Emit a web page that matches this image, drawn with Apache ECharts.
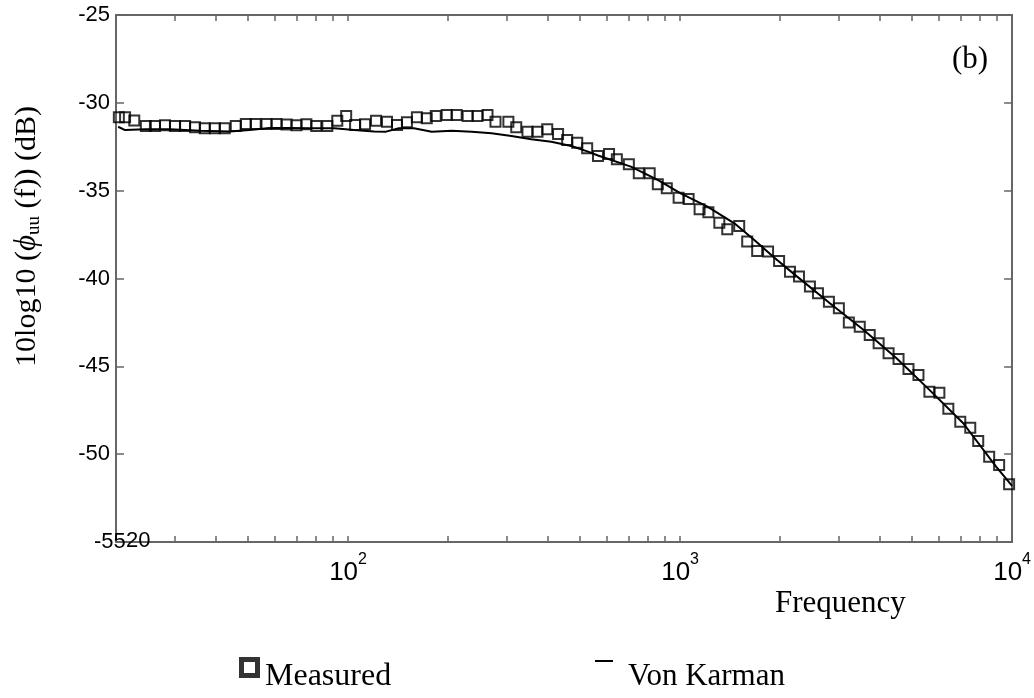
<!DOCTYPE html>
<html>
<head>
<meta charset="utf-8">
<script src="https://cdn.jsdelivr.net/npm/echarts@6/dist/echarts.min.js"></script>
<style>
  html, body { margin: 0; padding: 0; background: #fff; }
  #chart { width: 1034px; height: 698px; }
</style>
</head>
<body>
<div id="chart"></div>
<script>
// measured spectrum (squares)
const measuredFreq = [
  20.4, 21.3, 22.7, 24.6, 26.2, 28.1, 30.1, 32.3, 34.6, 37.0,
  39.7, 42.5, 45.9, 49.2, 52.7, 56.8, 60.9, 65.3, 69.9, 74.9,
  80.2, 86.6, 92.8, 98.7, 105, 112.5, 121.4, 131, 140.4, 150.4,
  161.2, 172.6, 183.7, 198.2, 212.4, 229.2, 245.5, 263, 278, 304,
  321, 347, 372, 398, 429, 457, 490, 525, 566, 611,
  645, 701, 751, 810, 857, 912, 990, 1061, 1145, 1217,
  1313, 1387, 1507, 1593, 1707, 1841, 1987, 2143, 2281, 2461,
  2602, 2807, 3008, 3223, 3477, 3726, 3963, 4246, 4550, 4875,
  5224, 5636, 6039, 6427, 6982, 7482, 7907, 8531, 9141, 9795
];
const measuredDb = [
  -30.82, -30.82, -31.01, -31.32, -31.32, -31.28, -31.32, -31.32, -31.39, -31.45,
  -31.45, -31.45, -31.32, -31.2, -31.2, -31.2, -31.2, -31.24, -31.28, -31.22,
  -31.32, -31.32, -31.02, -30.75, -31.26, -31.22, -31.02, -31.07, -31.26, -31.11,
  -30.82, -30.88, -30.75, -30.69, -30.69, -30.75, -30.75, -30.69, -31.07, -31.07,
  -31.39, -31.64, -31.64, -31.51, -31.77, -32.11, -32.27, -32.59, -33.03, -32.91,
  -33.21, -33.5, -34.01, -34.01, -34.64, -34.86, -35.4, -35.47, -36.06, -36.23,
  -36.82, -37.2, -37.01, -37.9, -38.43, -38.47, -39.0, -39.61, -39.89, -40.46,
  -40.84, -41.32, -41.69, -42.51, -42.74, -43.21, -43.69, -44.26, -44.58, -45.15,
  -45.49, -46.44, -46.5, -47.42, -48.15, -48.49, -49.25, -50.14, -50.61, -51.71
];

// von Karman model (solid line)
const karmanFreq = [
  20.3, 21.3, 24.5, 29.1, 35.8, 44.0, 50.5, 58.0, 66.6, 76.4,
  90.9, 104.3, 119.8, 130.1, 142.3, 157.9, 178.7, 205.2, 235.6, 270.4,
  310.5, 356.5, 409.3, 469.9, 528.3, 565.9, 710.8, 856.2, 1004, 1209,
  1457, 1673, 1920, 2205, 2826, 3573, 4487, 5636, 7127, 8949, 10000
];
const karmanDb = [
  -31.36, -31.55, -31.51, -31.51, -31.59, -31.63, -31.55, -31.43, -31.43, -31.45,
  -31.45, -31.55, -31.63, -31.64, -31.45, -31.45, -31.64, -31.59, -31.64, -31.73,
  -31.89, -32.07, -32.21, -32.46, -32.78, -33.0, -33.63, -34.39, -35.15, -35.91,
  -36.86, -37.81, -38.8, -39.75, -41.41, -42.93, -44.54, -46.34, -48.24, -50.71, -51.81
];

const tickFreqs = [
  30, 40, 50, 60, 70, 80, 90,
  100, 200, 300, 400, 500, 600, 700, 800, 900,
  1000, 2000, 3000, 4000, 5000, 6000, 7000, 8000, 9000
];
const decadeLabels = [100, 1000, 10000];
const firstLabel = [20];

const SERIF = "'Liberation Serif', 'Times New Roman', serif";
const SANS = "'Liberation Sans', Arial, sans-serif";
const frameColor = "#666666";

// legend glyphs; the stray end point only pads the icon box so the mark sits high
const ringIcon = "path://M0,0 L21,0 L21,21 L0,21 Z M5,5 L5,16 L16,16 L16,5 Z M0,40 L0.01,40";
const dashIcon = "path://M0,0 L18,0 L18,2 L0,2 Z M28,34 L28.01,34";

var chart = echarts.init(document.getElementById("chart"));

var logAxisBase = {
  type: "log",
  logBase: 10,
  min: 20,
  max: 10000,
  splitLine: { show: false },
  minorTick: { show: false },
  axisLine: { show: true, onZero: false, lineStyle: { color: frameColor, width: 2 } },
  axisTick: {
    show: true,
    inside: true,
    length: 6,
    customValues: tickFreqs,
    lineStyle: { color: frameColor, width: 1.5 },
  },
};

var option = {
  backgroundColor: "#ffffff",
  animation: false,
  grid: { left: 116, right: 18, top: 15, bottom: 156, containLabel: false },
  legend: [
    {
      data: [{ name: "Measured", icon: ringIcon, itemStyle: { color: "#000", borderWidth: 0 } }],
      left: 239,
      top: 657,
      padding: 0,
      itemWidth: 21,
      itemHeight: 40,
      selectedMode: false,
      textStyle: { fontFamily: SERIF, fontSize: 32, color: "#000" },
    },
    {
      data: [{ name: "Von Karman", icon: dashIcon, itemStyle: { color: "#000", borderWidth: 0 } }],
      left: 595,
      top: 660,
      padding: 0,
      itemWidth: 28,
      itemHeight: 34,
      selectedMode: false,
      textStyle: { fontFamily: SERIF, fontSize: 31, color: "#000" },
    },
  ],
  xAxis: [
    Object.assign({}, logAxisBase, {
      position: "bottom",
      axisLabel: {
        customValues: decadeLabels,
        margin: 10,
        color: "#000",
        formatter: function (value) {
          return "{b|10}{s|" + Math.round(Math.log10(value)) + "}";
        },
        rich: {
          b: { fontFamily: SANS, fontSize: 26, color: "#000", padding: [8, 0, 0, 0] },
          s: { fontFamily: SANS, fontSize: 16, color: "#000", verticalAlign: "top" },
        },
      },
    }),
    Object.assign({}, logAxisBase, {
      position: "top",
      axisLabel: { show: false },
    }),
    Object.assign({}, logAxisBase, {
      position: "bottom",
      axisLine: { show: false },
      axisTick: { show: false },
      axisLabel: {
        customValues: firstLabel,
        margin: -12,
        align: "left",
        color: "#000",
        formatter: function (value) {
          return "{t|" + Math.round(value) + "}";
        },
        rich: {
          t: { fontFamily: SANS, fontSize: 22, color: "#000", padding: [0, 0, 0, 10] },
        },
      },
    }),
  ],
  yAxis: [
    {
      type: "value",
      position: "left",
      min: -55,
      max: -25,
      interval: 5,
      splitLine: { show: false },
      axisLine: { show: true, onZero: false, lineStyle: { color: frameColor, width: 2 } },
      axisTick: { show: true, inside: true, length: 8, lineStyle: { color: frameColor, width: 1.5 } },
      axisLabel: {
        fontFamily: SANS,
        fontSize: 22,
        color: "#000",
        margin: 6,
        formatter: function (value) {
          // the lowest label sits pushed against the "20" of the frequency axis
          return value === -55 ? "{e|" + value + "}" : String(value);
        },
        rich: {
          e: { fontFamily: SANS, fontSize: 22, color: "#000", width: 16, align: "left" },
        },
      },
      name: "10log10 ({p|ϕ}{s|uu} (f)) (dB)",
      nameLocation: "middle",
      nameGap: 72,
      nameTextStyle: {
        fontFamily: SERIF,
        fontSize: 30,
        lineHeight: 34,
        color: "#000",
        padding: [0, 0, 0, 84],
        rich: {
          p: { fontFamily: SERIF, fontSize: 31, fontStyle: "italic", color: "#000", lineHeight: 34 },
          s: { fontFamily: SERIF, fontSize: 19, color: "#000", verticalAlign: "bottom", lineHeight: 18 },
        },
      },
    },
    {
      type: "value",
      position: "right",
      min: -55,
      max: -25,
      interval: 5,
      splitLine: { show: false },
      axisLine: { show: true, onZero: false, lineStyle: { color: frameColor, width: 2 } },
      axisTick: { show: true, inside: true, length: 8, lineStyle: { color: frameColor, width: 1.5 } },
      axisLabel: { show: false },
    },
  ],
  graphic: [
    {
      type: "text",
      left: 952,
      top: 44,
      style: { text: "(b)", fontFamily: SERIF, fontSize: 31, fill: "#000" },
    },
    {
      type: "text",
      left: 775,
      top: 588,
      style: { text: "Frequency", fontFamily: SERIF, fontSize: 31, fill: "#000" },
    },
  ],
  series: [
    {
      name: "Von Karman",
      type: "line",
      xAxisIndex: 0,
      yAxisIndex: 0,
      data: karmanFreq.map(function (f, i) { return [f, karmanDb[i]]; }),
      showSymbol: false,
      symbol: "none",
      lineStyle: { color: "#000", width: 2 },
      itemStyle: { color: "#000" },
      z: 2,
    },
    {
      name: "Measured",
      type: "scatter",
      xAxisIndex: 0,
      yAxisIndex: 0,
      data: measuredFreq.map(function (f, i) { return [f, measuredDb[i]]; }),
      symbol: "rect",
      symbolSize: 10,
      itemStyle: { color: "rgba(255,255,255,0)", borderColor: "#000", borderWidth: 2 },
      z: 3,
    },
  ],
};
option && chart.setOption(option);
</script>
</body>
</html>
